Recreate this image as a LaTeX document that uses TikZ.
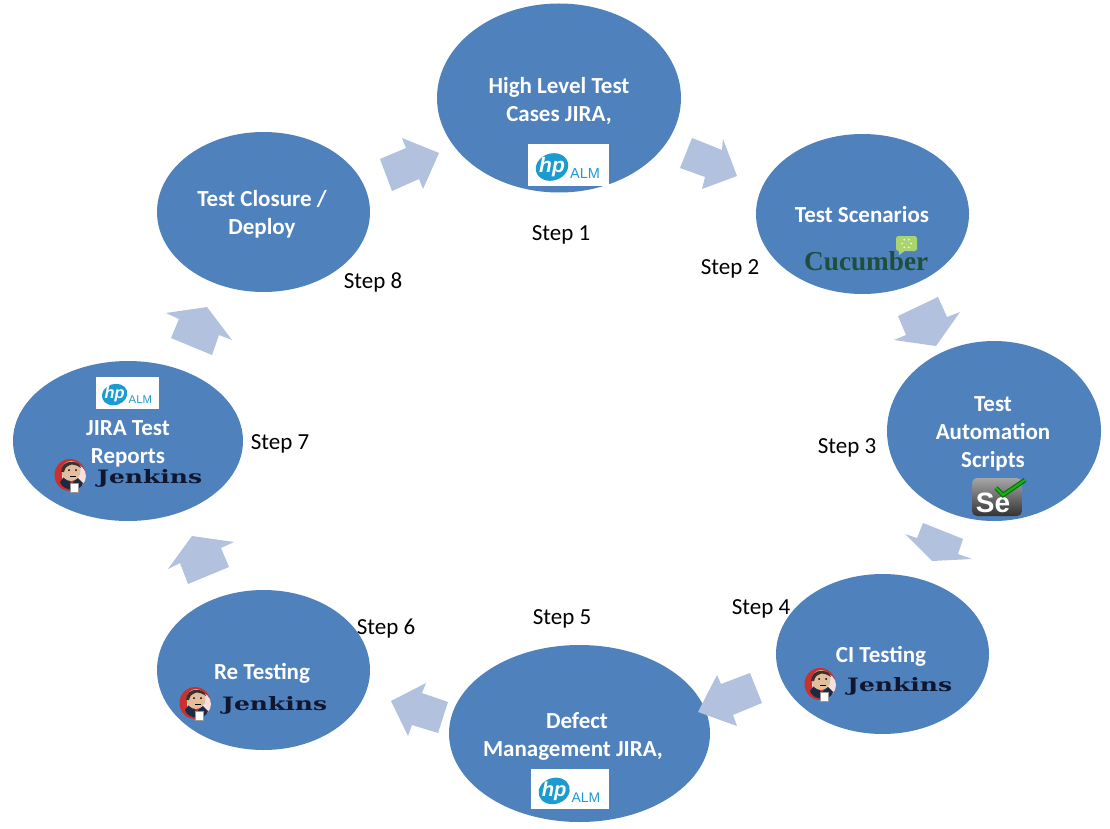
\documentclass[tikz,border=0pt]{standalone}
\usepackage{fontspec}
\usepackage{graphicx}
\setmainfont{Carlito}
\newfontfamily\serifd{DejaVu Serif}
\newfontfamily\serifl{Liberation Serif}
\newfontfamily\sansl{Liberation Sans}
\usetikzlibrary{shapes.geometric}
\definecolor{circ}{HTML}{4F81BD}
\definecolor{arr}{HTML}{B1C1DE}
\definecolor{hpblue}{HTML}{1C9BD1}
\definecolor{jnavy}{HTML}{10162E}
\definecolor{cuke}{HTML}{1F4E3C}
\definecolor{bubble}{HTML}{A9D46E}
\definecolor{jred}{HTML}{C8312E}
\definecolor{jskin}{HTML}{E3BE9C}
\definecolor{jhair}{HTML}{3A3030}
\definecolor{jsuit}{HTML}{1D2A44}
\tikzset{
  x=1pt,y=-1pt,
  phase/.style={ellipse,fill=circ,inner sep=0pt,outer sep=0pt},
  title/.style={text=white,font=\fontsize{23}{23}\selectfont\bfseries,inner sep=0pt,anchor=center,text height=16pt,text depth=5pt,yshift=-1.5pt},
  steplabel/.style={text=black,font=\fontsize{23}{23}\selectfont,inner sep=0pt,anchor=center,text height=16pt,text depth=5pt,yshift=-0.5pt},
  blockarrow/.style={fill=arr,draw=none},
  hplogo/.pic={
    \fill[white] (-40.5,-21) rectangle (40.5,21);
    \fill[hpblue,rotate around={18:(-16.5,2)}] (-16.5,2) ellipse [x radius=16.5,y radius=13.5];
    \node[transform shape,text=white,inner sep=0pt,font=\sansl\fontsize{21}{21}\selectfont\bfseries\itshape] (hp) at (-16.5,2) {hp};
    \node[transform shape,text=hpblue,inner sep=0pt,font=\sansl\fontsize{14.5}{14.5}\selectfont] (alm) at (16.5,9) {ALM};
  },
  jenkinsman/.pic={
    \fill[jred] (-1,0) ellipse [x radius=15.5,y radius=16];
    \fill[white!85!jred] (3,1) circle [radius=12];
    \fill[jsuit] (-11,7) .. controls (-8,17) and (10,17) .. (12,8) -- (6,2) -- (-7,2) -- cycle;
    \fill[jred] (-3,4) -- (4,4) -- (1,9) -- cycle;
    \fill[jskin] (0,-4) ellipse [x radius=9.5,y radius=10];
    \fill[jhair] (-10,-3) .. controls (-10,-16) and (8,-16) .. (10,-7) .. controls (3,-12) and (-5,-12) .. (-7,-3) -- cycle;
    \fill[black] (-2,-5) circle [radius=1] (5,-5) circle [radius=1];
    \draw[black,line width=0.7pt] (-1,1) -- (5,1);
    \fill[white,draw=black!40,line width=0.3pt] (-1,8) rectangle (7,17);
  },
}
\begin{document}
\begin{tikzpicture}
\useasboundingbox (0,0) rectangle (1110,829);
\fill[white] (0,0) rectangle (1110,829);

% block arrows
\fill[blockarrow] (680,168) -- (692,138) -- (722,150) -- (723,139) -- (737,176) -- (702,189) -- (705,177) -- cycle;
\fill[blockarrow] (938,297) -- (947,317) -- (960,312) -- (936,346) -- (894,340) -- (906,335) -- (898,316) -- cycle;
\fill[blockarrow] (923,523) -- (963,539) -- (958,554) -- (972,559) -- (932,561) -- (905,534) -- (917,538) -- cycle;
\fill[blockarrow] (380,159) -- (406,148) -- (402,138) -- (439,153) -- (423,189) -- (419,179) -- (392,191) -- cycle;
\fill[blockarrow] (207,307) -- (232,340) -- (219,335) -- (212,355) -- (171,338) -- (179,319) -- (166,313) -- cycle;
\fill[blockarrow] (192,536) -- (234,542) -- (221,548) -- (229,567) -- (188,584) -- (180,563) -- (168,569) -- cycle;
\fill[blockarrow] (391,701) -- (426,683) -- (422,693) -- (448,702) -- (438,733) -- (412,725) -- (408,736) -- cycle;

% phases
\node[phase,minimum width=244pt,minimum height=189pt] (e1) at (559,98) {};
\node[phase,minimum width=213pt,minimum height=160pt] (e2) at (862.5,214) {};
\node[phase,minimum width=214pt,minimum height=180pt] (e3) at (994,431) {};
\node[phase,minimum width=213pt,minimum height=160pt] (e4) at (882.5,654) {};
\node[phase,minimum width=261pt,minimum height=177pt] (e5) at (579.5,733.5) {};
\node[phase,minimum width=213pt,minimum height=160pt] (e6) at (263.5,670) {};
\node[phase,minimum width=230pt,minimum height=160pt] (e7) at (128,441) {};
\node[phase,minimum width=213pt,minimum height=160pt] (e8) at (263.5,212) {};

\fill[blockarrow] (698,712) -- (717,675) -- (721,684) -- (750,673) -- (762,703) -- (733,715) -- (737,726) -- cycle;

% titles
\node[title] (t1a) at (559,87) {High Level Test};
\node[title] (t1b) at (559,115) {Cases JIRA,};
\node[title] (t2) at (862,215) {Test Scenarios};
\node[title] (t3a) at (993,404) {Test};
\node[title] (t3b) at (993,432) {Automation};
\node[title] (t3c) at (993,460) {Scripts};
\node[title] (t4) at (881,655) {CI Testing};
\node[title] (t5a) at (577,721) {Defect};
\node[title] (t5b) at (573,749) {Management JIRA,};
\node[title] (t6) at (262,672) {Re Testing};
\node[title] (t7a) at (128,428) {JIRA Test};
\node[title] (t7b) at (128,456) {Reports};
\node[title] (t8a) at (262,199) {Test Closure /};
\node[title] (t8b) at (262,227) {Deploy};

% step labels
\node[steplabel] (s1) at (561,234) {Step 1};
\node[steplabel] (s2) at (730,268) {Step 2};
\node[steplabel] (s3) at (847,447) {Step 3};
\node[steplabel] (s4) at (761,608) {Step 4};
\node[steplabel] (s5) at (562,618) {Step 5};
\node[steplabel] (s6) at (386,628) {Step 6};
\node[steplabel] (s7) at (280,443) {Step 7};
\node[steplabel] (s8) at (373,282) {Step 8};

% HP ALM logos
\pic (hpa) at (568.5,165) {hplogo};
\pic[scale=0.96] (hpb) at (570,789) {hplogo};
\pic[scale=0.78] (hpc) at (127.5,393) {hplogo};

% Jenkins logos
\pic (ja) at (821,684) {jenkinsman};
\node[text=jnavy,inner sep=0pt,anchor=base west] (jat) at (847,691) {\resizebox{105pt}{14pt}{\serifd\bfseries Jenkins}};
\pic (jb) at (196,703) {jenkinsman};
\node[text=jnavy,inner sep=0pt,anchor=base west] (jbt) at (222,710) {\resizebox{105pt}{14pt}{\serifd\bfseries Jenkins}};
\pic (jc) at (71,475) {jenkinsman};
\node[text=jnavy,inner sep=0pt,anchor=base west] (jct) at (97,483) {\resizebox{105pt}{14pt}{\serifd\bfseries Jenkins}};

% Cucumber logo
\node[text=cuke,inner sep=0pt,anchor=base west] (cuk) at (804,270) {\resizebox{124pt}{19pt}{\serifl\bfseries Cucumber}};
\fill[bubble,rounded corners=2.5pt] (896,236) rectangle (917,251);
\fill[bubble] (899,250) -- (906,250) -- (899,255) -- cycle;
\foreach \a in {0,60,...,300}{\fill[white!80!bubble] (906.5,243.5)+(\a:4.5) circle [radius=1];}

% Selenium logo
\shade[top color=black!35,bottom color=black!80,rounded corners=5pt] (972,478) rectangle (1022,516);
\node[text=white,inner sep=0pt,font=\sansl\fontsize{28}{28}\selectfont\bfseries] (se) at (993,503) {Se};
\draw[green!45!black,line width=4.5pt,line join=miter] (996,488) -- (1003,495) -- (1025,480);
\draw[green!65!black!90,line width=2.2pt] (996,488) -- (1003,495) -- (1025,480);
\end{tikzpicture}
\end{document}
